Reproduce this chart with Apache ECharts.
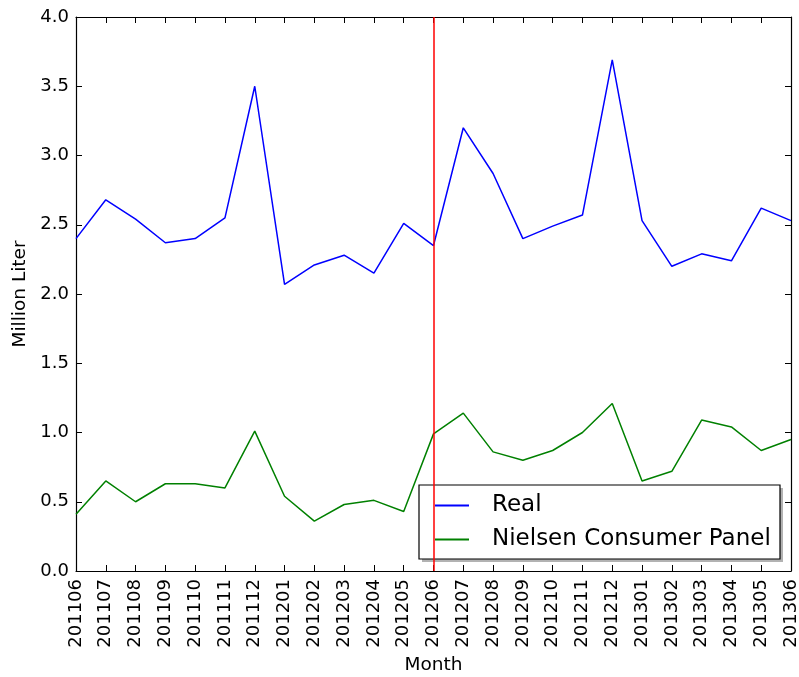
<!DOCTYPE html>
<html>
<head>
<meta charset="utf-8">
<title>Real vs Nielsen Consumer Panel</title>
<script src="https://cdn.jsdelivr.net/npm/echarts@6/dist/echarts.min.js"></script>
<style>
  html, body { margin: 0; padding: 0; background: #fff; }
  #chart { width: 799px; height: 677px; }
</style>
</head>
<body>
<div id="chart"></div>
<script>
// Monthly volumes, million liters
const months = ['201106','201107','201108','201109','201110','201111','201112',
  '201201','201202','201203','201204','201205','201206','201207','201208',
  '201209','201210','201211','201212','201301','201302','201303','201304',
  '201305','201306'];
const realValues = [2.40, 2.68, 2.54, 2.37, 2.40, 2.55, 3.50,
  2.07, 2.21, 2.28, 2.15, 2.51, 2.35, 3.20, 2.87,
  2.40, 2.49, 2.57, 3.69, 2.53, 2.20, 2.29, 2.24,
  2.62, 2.53];
const nielsenValues = [0.41, 0.65, 0.50, 0.63, 0.63, 0.60, 1.01,
  0.54, 0.36, 0.48, 0.51, 0.43, 0.99, 1.14, 0.86,
  0.80, 0.87, 1.00, 1.21, 0.65, 0.72, 1.09, 1.04,
  0.87, 0.95];
const markerMonth = '201206';
const yTicks = [0, 0.5, 1, 1.5, 2, 2.5, 3, 3.5, 4];

const FONT = 'DejaVu Sans';
const chart = echarts.init(document.getElementById('chart'), null, { renderer: 'canvas' });

const tickStyle = { show: true, inside: true, length: 6, lineStyle: { color: '#000', width: 1 } };
const frameLine = { show: true, onZero: false, lineStyle: { color: '#000', width: 1.2 } };

// legend frame with a drop shadow
const legendBox = { x: 419, y: 485, w: 361, h: 74 };

chart.setOption({
  animation: false,
  backgroundColor: '#fff',
  textStyle: { fontFamily: FONT },
  grid: { left: 76, right: 8, top: 17, bottom: 106, containLabel: false, outerBoundsMode: 'none' },
  graphic: [{
    type: 'rect', z: 5, silent: true,
    shape: { x: legendBox.x + 3, y: legendBox.y + 3, width: legendBox.w, height: legendBox.h },
    style: { fill: '#7f7f7f', opacity: 0.6 }
  }, {
    type: 'rect', z: 5, silent: true,
    shape: { x: legendBox.x, y: legendBox.y, width: legendBox.w, height: legendBox.h },
    style: { fill: '#fff', stroke: '#000', lineWidth: 1.2 }
  }],
  legend: {
    z: 6,
    orient: 'vertical',
    left: legendBox.x,
    top: legendBox.y,
    padding: [9, 8, 8, 16],
    itemGap: 11,
    itemWidth: 34,
    itemHeight: 2,
    icon: 'rect',
    backgroundColor: 'transparent',
    borderWidth: 0,
    textStyle: { fontFamily: FONT, fontSize: 23, color: '#000', padding: [0, 0, 0, 18] },
    data: ['Real', 'Nielsen Consumer Panel']
  },
  xAxis: [{
    type: 'category',
    data: months,
    boundaryGap: false,
    name: 'Month',
    nameLocation: 'middle',
    nameGap: 83,
    nameTextStyle: { fontFamily: FONT, fontSize: 18.5, color: '#000' },
    axisLine: frameLine,
    axisTick: Object.assign({}, tickStyle, { interval: 0 }),
    axisLabel: { rotate: 90, interval: 0, margin: 8, fontFamily: FONT, fontSize: 18, color: '#000' },
    splitLine: { show: false }
  }, {
    type: 'category',
    data: months,
    boundaryGap: false,
    position: 'top',
    axisLine: frameLine,
    axisTick: Object.assign({}, tickStyle, { interval: 0 }),
    axisLabel: { show: false },
    splitLine: { show: false }
  }],
  yAxis: [{
    type: 'value',
    min: 0,
    max: 4,
    interval: 0.5,
    name: 'Million Liter',
    nameLocation: 'middle',
    nameGap: 43,
    nameTextStyle: { fontFamily: FONT, fontSize: 18.5, color: '#000' },
    axisLine: frameLine,
    axisTick: tickStyle,
    axisLabel: {
      margin: 7, fontFamily: FONT, fontSize: 18, color: '#000',
      formatter: v => (yTicks.indexOf(v) >= 0 ? v.toFixed(1) : '')
    },
    splitLine: { show: false }
  }, {
    type: 'value',
    min: 0,
    max: 4,
    interval: 0.5,
    position: 'right',
    axisLine: frameLine,
    axisTick: tickStyle,
    axisLabel: { show: false },
    splitLine: { show: false }
  }],
  series: [{
    name: 'Real',
    type: 'line',
    data: realValues,
    symbol: 'none',
    lineStyle: { color: '#0000ff', width: 1.5 },
    itemStyle: { color: '#0000ff' },
    z: 3,
    markLine: {
      silent: true,
      symbol: 'none',
      label: { show: false },
      lineStyle: { color: '#ff0000', width: 1.5, type: 'solid' },
      data: [{ xAxis: markerMonth }]
    }
  }, {
    name: 'Nielsen Consumer Panel',
    type: 'line',
    data: nielsenValues,
    symbol: 'none',
    lineStyle: { color: '#008000', width: 1.5 },
    itemStyle: { color: '#008000' },
    z: 2
  }]
});
</script>
</body>
</html>
